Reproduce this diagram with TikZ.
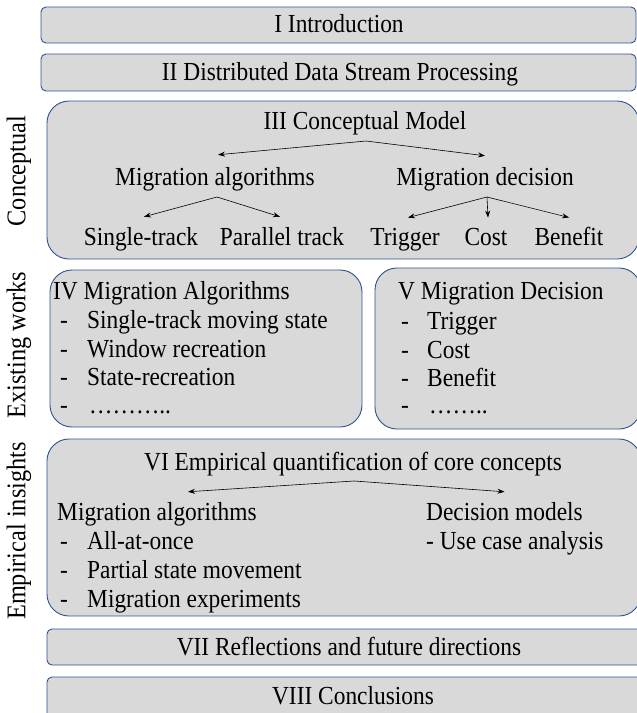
\documentclass[tikz,border=0pt]{standalone}
\usepackage{fontspec}
\setmainfont{Liberation Serif}[FakeStretch=0.9]
\usetikzlibrary{calc,arrows.meta}
\definecolor{boxfill}{RGB}{217,217,217}
\definecolor{boxline}{RGB}{47,82,143}
\begin{document}
\begin{tikzpicture}[x=1pt,y=-1pt,
  every node/.style={inner sep=0pt, font=\fontsize{26}{30}\selectfont},
  sbox/.style={fill=boxfill, draw=boxline, line width=0.9pt, rounded corners=5pt},
  bbox/.style={fill=boxfill, draw=boxline, line width=0.9pt, rounded corners=22pt},
  arr/.style={-{Stealth[length=7pt,width=5pt]}, line width=0.6pt},
  side/.style={rotate=90, anchor=center, font=\fontsize{27}{30}\selectfont},
  lt/.style={anchor=base west},
  ct/.style={anchor=base},
]
\clip (0,0) rectangle (637,713);
% boxes
\path[sbox] (41,7) rectangle (636,43);
\path[sbox] (41,54) rectangle (636,91);
\path[bbox] (47,101) rectangle (639,259);
\path[bbox] (50,270) rectangle (362,427);
\path[bbox] (375,268) rectangle (641,429);
\path[bbox] (47,439) rectangle (641,616);
\path[sbox] (47,629) rectangle (642,665);
\path[sbox] (47,677) rectangle (642,720);

% side labels
\node[side] (sc) at (19,171) {Conceptual};
\node[side] (se) at (19,345) {Existing works};
\node[side] (si) at (19,531) {Empirical insights};

% simple boxes
\node[ct] (t1) at (339,32) {I Introduction};
\node[ct] (t2) at (340,80) {II Distributed Data Stream Processing};

% III
\node[ct] (t3) at (365,129) {III Conceptual Model};
\node[ct] (ma) at (215,185) {Migration algorithms};
\node[ct] (md) at (485,185) {Migration decision};
\node[ct] (st) at (141,245) {Single-track};
\node[ct] (pt) at (282,245) {Parallel track};
\node[ct] (tr) at (405,245) {Trigger};
\node[ct] (co) at (486,245) {Cost};
\node[ct] (be) at (569,245) {Benefit};

\coordinate (a3) at (366,141);
\draw[arr] (a3) -- ($(ma.north)+(3,-12)$);
\draw[arr] (a3) -- ($(md.north)+(0,-11)$);
\coordinate (am) at (217,197);
\draw[arr] (am) -- ($(st.north)+(3,-10)$);
\draw[arr] (am) -- ($(pt.north)+(-2,-10)$);
\coordinate (ad) at (487,197);
\draw[arr] (ad) -- ($(tr.north)+(3,-10)$);
\draw[arr] (ad) -- ($(co.north)+(2,-10)$);
\draw[arr] (ad) -- ($(be.north)+(0,-9)$);

% IV
\node[lt] (t4) at (53,299) {IV Migration Algorithms};
\node[lt] (d41) at (60,328) {-};
\node[lt] (i41) at (87,328) {Single-track moving state};
\node[lt] (d42) at (60,357) {-};
\node[lt] (i42) at (87,357) {Window recreation};
\node[lt] (d43) at (60,385) {-};
\node[lt] (i43) at (87,385) {State-recreation};
\node[lt] (d44) at (60,413) {-};
\node[lt] (i44) at (89,413) {………..};

% V
\node[lt] (t5) at (398,299) {V Migration Decision};
\node[lt] (d51) at (401,329) {-};
\node[lt] (i51) at (427,329) {Trigger};
\node[lt] (d52) at (401,358) {-};
\node[lt] (i52) at (427,358) {Cost};
\node[lt] (d53) at (401,386) {-};
\node[lt] (i53) at (427,386) {Benefit};
\node[lt] (d54) at (401,413) {-};
\node[lt] (i54) at (429,413) {……..};

% VI
\node[ct] (t6) at (353,470) {VI Empirical quantification of core concepts};
\node[lt] (ma6) at (57,520) {Migration algorithms};
\node[lt] (d61) at (60,549) {-};
\node[lt] (i61) at (87,549) {All-at-once};
\node[lt] (d62) at (60,578) {-};
\node[lt] (i62) at (87,578) {Partial state movement};
\node[lt] (d63) at (60,607) {-};
\node[lt] (i63) at (87,607) {Migration experiments};
\node[lt] (dm6) at (426,520) {Decision models};
\node[lt] (uc6) at (426,549) {- Use case analysis};

\coordinate (a6) at (354,481);
\draw[arr] (a6) -- ($(ma6.north)+(31,-10)$);
\draw[arr] (a6) -- ($(dm6.north)+(0,-10)$);

% VII, VIII
\node[ct] (t7) at (349,655) {VII Reflections and future directions};
\node[ct] (t8) at (353,704) {VIII Conclusions};
\end{tikzpicture}
\end{document}
